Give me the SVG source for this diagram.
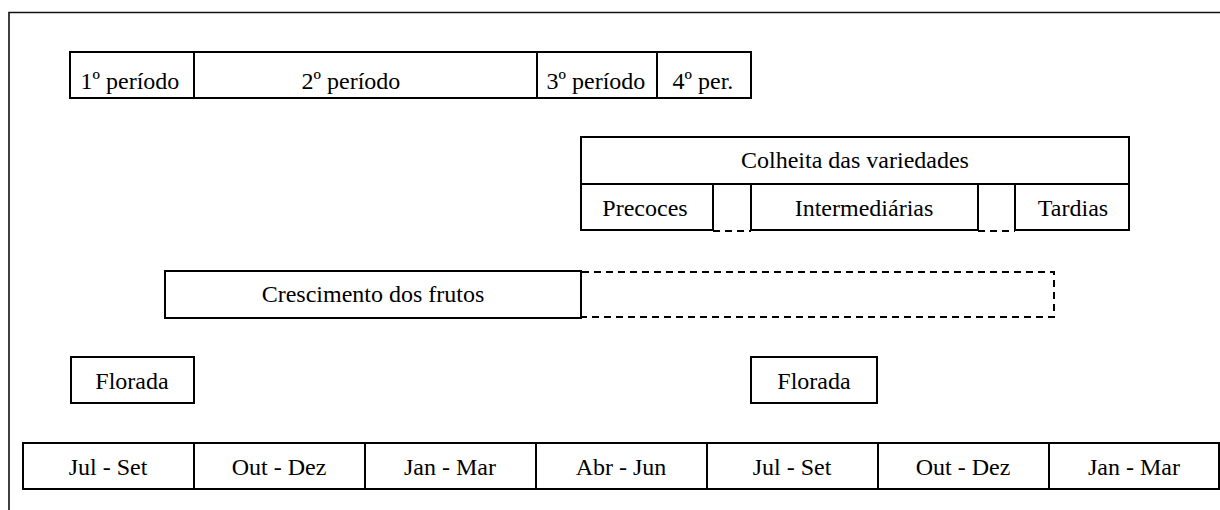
<svg xmlns="http://www.w3.org/2000/svg" width="1220" height="510" viewBox="0 0 1220 510">
<style>
.b{fill:#fff;stroke:#000;stroke-width:2}
.l{fill:none;stroke:#000;stroke-width:2}
.d{fill:none;stroke:#000;stroke-width:2;stroke-dasharray:7,5}
.t{font-family:"Liberation Serif","Times New Roman",serif;font-size:24px;fill:#000;text-anchor:middle}
</style>
<rect width="1220" height="510" fill="#fff"/>
<path d="M9,510 V12.5 H1220" fill="none" stroke="#111" stroke-width="1.6"/>
<g id="periodos">
<rect class="b" x="70" y="52" width="681" height="46"/>
<path class="l" d="M194,52V98M537,52V98M657,52V98"/>
<text class="t" x="130" y="89">1º período</text>
<text class="t" x="351" y="89">2º período</text>
<text class="t" x="596" y="89">3º período</text>
<text class="t" x="703" y="89">4º per.</text>
</g>
<g id="colheita">
<rect class="b" x="581" y="137" width="548" height="47"/>
<text class="t" x="855" y="168">Colheita das variedades</text>
</g>
<g id="precoces">
<path class="l" d="M581,184V230H713V184"/>
<text class="t" x="645" y="216">Precoces</text>
</g>
<g id="intermediarias">
<path class="l" d="M751,184V230H978V184"/>
<text class="t" x="864" y="216">Intermediárias</text>
</g>
<g id="tardias">
<path class="l" d="M1015,184V230H1129V184"/>
<text class="t" x="1073" y="216">Tardias</text>
</g>
<g id="crescimento">
<rect class="b" x="165" y="271" width="416" height="47"/>
<text class="t" x="373" y="302">Crescimento dos frutos</text>
</g>
<g id="crescimento-continuacao">
<path class="d" d="M582,272H1054V317H582"/>
</g>
<g id="florada1">
<rect class="b" x="71" y="357" width="123" height="46"/>
<text class="t" x="132" y="389">Florada</text>
</g>
<g id="florada2">
<rect class="b" x="751" y="357" width="126" height="46"/>
<text class="t" x="814" y="389">Florada</text>
</g>
<g id="meses">
<rect class="b" x="23" y="443" width="1196" height="46"/>
<path class="l" d="M194,443V489M365,443V489M536,443V489M707,443V489M878,443V489M1049,443V489"/>
<text class="t" x="108" y="475">Jul - Set</text>
<text class="t" x="279" y="475">Out - Dez</text>
<text class="t" x="450" y="475">Jan - Mar</text>
<text class="t" x="621" y="475">Abr - Jun</text>
<text class="t" x="792" y="475">Jul - Set</text>
<text class="t" x="963" y="475">Out - Dez</text>
<text class="t" x="1134" y="475">Jan - Mar</text>
</g>
<g id="conectores">
<path class="d" d="M713,231H751M978,231H1015" stroke-dasharray="6,5"/>
</g>
</svg>
